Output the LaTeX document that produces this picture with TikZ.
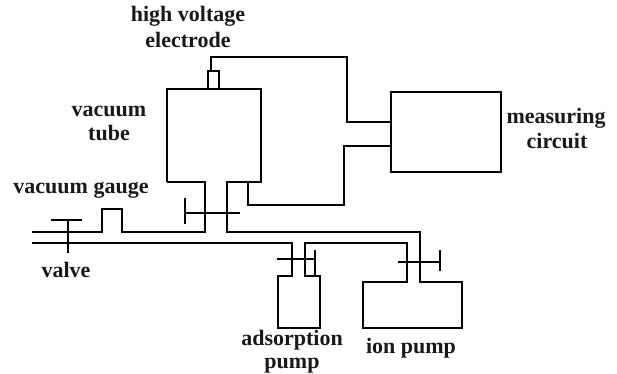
\documentclass[tikz,border=0pt]{standalone}
\usepackage{fontspec}
\setmainfont{Liberation Serif}
\tikzset{
  wire/.style={line width=1.8pt,line join=miter,line cap=butt},
  lbl/.style={font=\bfseries\fontsize{22}{24}\selectfont,inner sep=0pt,anchor=center,text=black!90}
}
\begin{document}
\begin{tikzpicture}[x=1pt,y=-1pt]
\useasboundingbox (0,0) rectangle (617,373);
\fill[white] (0,0) rectangle (617,373);
% measuring box
\node[draw,line width=1.8pt,minimum width=110pt,minimum height=80pt,inner sep=0pt] (meas) at (446,132) {};
% tube and lines
\draw[wire] (167,182) -- (167,89) -- (261,89) -- (261,182) -- (227,182) -- (227,232) -- (420,232) -- (420,282) -- (462,282) -- (462,328) -- (363,328) -- (363,282) -- (407,282) -- (407,243) -- (305,243) -- (305,276) -- (320,276) -- (320,328) -- (278,328) -- (278,276) -- (292,276) -- (292,243) -- (32,243);
\draw[wire] (167,182) -- (205,182) -- (205,232) -- (122,232) -- (122,209) -- (102,209) -- (102,232) -- (32,232);
% electrode
\draw[wire] (208,89) -- (208,71) -- (219,71) -- (219,89);
\coordinate (elec) at (211,71);
\coordinate (m1) at (meas.west |- 0,122);
\coordinate (m2) at (meas.west |- 0,146);
\draw[wire] (elec) -- (211,57) -- (347,57) -- (347,122) -- (m1);
\draw[wire] (248,182) -- (248,205) -- (344,205) -- (344,146) -- (m2);
% valves
\draw[wire] (68,220) -- (68,253) (51,220) -- (82,220);
\draw[wire] (185,213) -- (240,213) (185,198) -- (185,224);
\draw[wire] (277,259) -- (315,259) (315,250) -- (315,276);
\draw[wire] (398,262) -- (440,262) (440,250) -- (440,271);
% labels
\node[lbl] (t1) at (188,16) {high voltage};
\node[lbl] (t2) at (188,40) {electrode};
\node[lbl] (t3) at (109,111) {vacuum};
\node[lbl] (t4) at (109,133) {tube};
\node[lbl] (t5) at (81,190) {vacuum gauge};
\node[lbl] (t6) at (66,270) {valve};
\node[lbl] (t7) at (292,340) {adsorption};
\node[lbl] (t8) at (292,366) {pump};
\node[lbl] (t9) at (411,348) {ion pump};
\node[lbl] (t10) at (556,118) {measuring};
\node[lbl] (t11) at (557,141) {circuit};
\end{tikzpicture}
\end{document}
